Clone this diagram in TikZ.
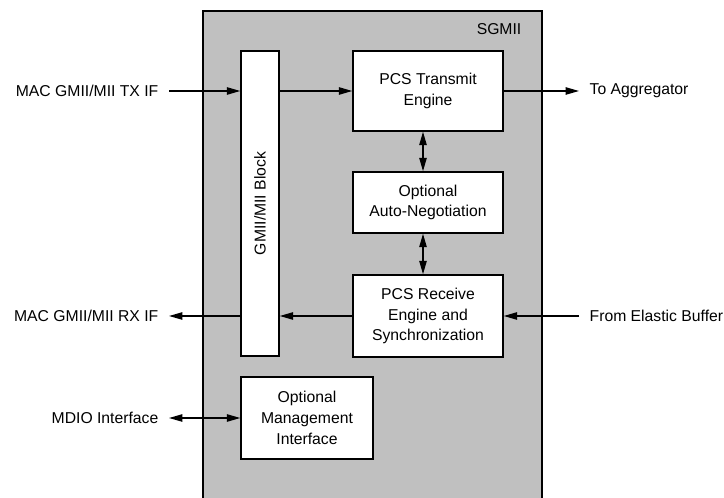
\documentclass[tikz,border=0pt]{standalone}
\usepackage{fontspec}
\setmainfont{Liberation Sans}
\usepackage{graphicx}
\usetikzlibrary{arrows.meta,positioning,calc}
\definecolor{sgmiigray}{RGB}{192,192,192}
\tikzset{>={Triangle[length=10pt,width=5.5pt]}}
\tikzset{
	blk/.style={draw,line width=1.1pt,fill=white,align=center,inner sep=2pt,font=\fontsize{11.8}{15.5}\selectfont},
	lbl/.style={inner sep=0pt,outer xsep=8pt,font=\fontsize{11.8}{15.5}\selectfont},
	con/.style={line width=1pt}
}

\begin{document}
\begin{tikzpicture}[x=0.75pt,y=-0.75pt]
		\useasboundingbox (0,0) rectangle (724,498);
		% SGMII core
		\fill[sgmiigray] (203,11) rectangle (542,498);
		\draw[line width=1.1pt] (203,498) -- (203,11) -- (542,11) -- (542,498);
		\node[lbl,anchor=east] (sgmiilbl) at (532,29) {SGMII};
		% blocks
		\node[blk,minimum width=28.5pt,minimum height=228.75pt] (gmii) at (260,203.5) {\rotatebox{90}{GMII/MII Block}};
		\node[blk,minimum width=112.5pt,minimum height=60pt] (pcstx) at (428,91) {PCS Transmit\\Engine};
		\node[blk,minimum width=112.5pt,minimum height=45.75pt] (autoneg) at (428,202.5) {Optional\\Auto-Negotiation};
		\node[blk,minimum width=112.5pt,minimum height=61.5pt] (pcsrx) at (428,316) {PCS Receive\\Engine and\\Synchronization};
		\node[blk,minimum width=99pt,minimum height=61.5pt] (mgmt) at (307,418) {Optional\\Management\\Interface};
		% outside labels
		\node[lbl,anchor=east] (txlbl) at (169,91) {MAC GMII/MII TX IF};
		\node[lbl,anchor=east] (rxlbl) at (169,316) {MAC GMII/MII RX IF};
		\node[lbl,anchor=east] (mdiolbl) at (169,418) {MDIO Interface};
		\node[lbl,anchor=west] (agglbl) at (579,91) {To Aggregator};
		\node[lbl,anchor=west] (eblbl) at (579,316) {From Elastic Buffer};
		% connectors
		\draw[con,->] (txlbl.east) -- (txlbl.east -| gmii.west);
		\draw[con,->] (gmii.east |- pcstx.west) -- (pcstx.west);
		\draw[con,->] (pcstx.east) -- (agglbl.west);
		\draw[con,->] (eblbl.west) -- (pcsrx.east);
		\draw[con,->] (pcsrx.west) -- (gmii.east |- pcsrx.west);
		\draw[con,->] (rxlbl.east -| gmii.west) -- (rxlbl.east);
		\draw[con,<->] (mdiolbl.east) -- (mgmt.west);
		\draw[con,<->] ([xshift=-3.75pt]pcstx.south) -- ([xshift=-3.75pt]autoneg.north);
		\draw[con,<->] ([xshift=-3.75pt]autoneg.south) -- ([xshift=-3.75pt]pcsrx.north);
	\end{tikzpicture}
\end{document}
